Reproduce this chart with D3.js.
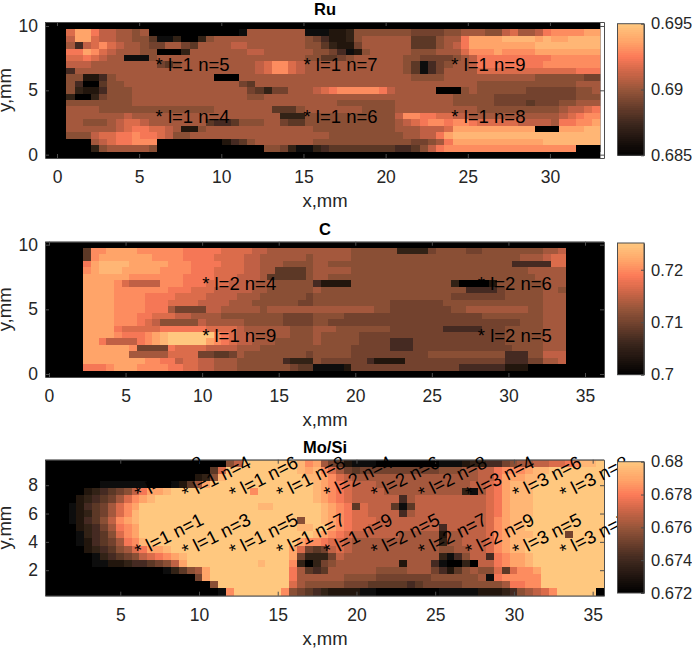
<!DOCTYPE html>
<html>
<head>
<meta charset="utf-8">
<script src="https://cdn.jsdelivr.net/npm/d3@7"></script>
<style>
  body { margin: 0; background: #fff; }
  svg { display: block; }
  text { font-family: "Liberation Sans", Arial, sans-serif; }
</style>
</head>
<body>
<div class="plot"></div>
<script>
// cell levels, 0 (colour axis min) .. f (colour axis max), top row first
const ruLevels = [
  "addb998878 0000000000 0188888881 1122377777 7766667788 8779a889bc cccdd",
  "9dda998877 5113003788 8888888887 6422378888 88555788bd dddeeeeded deeee",
  "849aca9887 6688658888 9988888887 7532268888 88555789bd dddddddeee eeeee",
  "bbdca98887 7000388888 8899888888 7764127888 88777888ac ccdccccddd ddddd",
  "aaba988111 7888888888 8888888887 7556788888 8776666789 bbbbbbbbbc ccccc",
  "9998888888 8657888888 8889acca98 8888888888 8751467889 bbbbbbbbcc ccccc",
  "4888888888 8888888888 8889acca98 8888888888 8751468888 aaaaaaaaaa aabbb",
  "7722478888 8888888800 0888888888 8888888888 8877778888 8888888777 77766",
  "7400577888 8888888888 8658888888 8888888888 8888888888 7777777777 77888",
  "7322477788 8888888888 8865366888 9abcccccb9 8888800078 7777776666 66778",
  "3003677788 8888888888 8877888888 8888888888 8888888777 7766666666 66777",
  "7777777788 8888888888 8888888888 8887777777 8888888777 7766665666 77888",
  "8888777777 7777777788 8888855578 8888887777 8888888888 7777777777 899ab",
  "8888888988 8888888888 8888883337 7777777777 9ccbbaa998 8888888888 9abcc",
  "8877789aa9 8888888544 5777886557 7777777777 89abccbccb aaaaa99998 bbccd",
  "8888889abb aa98227888 8888888888 7777777777 888999addd ddddddd000 dddee",
  "7779aabbcb ba97788888 8888888888 8877777777 78899bdeee eeeeeeeeee eeeee",
  "00089abbcc c000000002 4578888888 7777777777 776678bddd ddddddddee eeeee",
  "0003788888 7000000000 0000776311 3455555555 44579bcccc cccccccccc cc000"
];
const cLevels = [
  "5ccddddccc cccbbbbbaa aa99888888 8888877777 7333367777 6677777777 889",
  "5cdddddddc cccbbbbaaa a998888887 8888877777 7777777777 7777777888 9aa",
  "bdeeeedddd dcccbbbbaa a998887777 8877777777 7777777777 7777774444 4aa",
  "cdeeeddddd ccccbbbaaa a998855557 8888877777 7777777777 7777777788 888",
  "ddddddcccc cccbbbbaaa 9998555557 8877777777 7777777777 7777777778 888",
  "ddddca9999 cccbbbaaa9 9988877777 4222277777 7777777730 0002777777 888",
  "ddddcccccc cbbbaaa999 9988777777 8777777777 7777777777 4444677777 887",
  "ddddccccbb bbaaaa9999 8887777776 7777777777 7777777766 6666677777 888",
  "ddddccccbb baaaa99998 8877777766 7777777777 6666666777 7777777777 888",
  "ddddccccbb b866669988 8887888888 8888888877 6666666677 8888888877 888",
  "ddddcccbba aa99888877 7777776666 7777666666 6666666666 6677777777 888",
  "ddddcccba9 7777798888 8777776666 7766666666 6666666666 6666666777 888",
  "ddddbaaaaa bbbbbbaaaa 9888888777 8887777777 6666666444 4466677777 888",
  "ddddcbbbcd effffffcba 9988888777 8777776666 6666666666 6666677777 888",
  "ddb9999bcd efffffdcba 9988877777 8777776666 4446666666 6666677777 888",
  "ddddddc666 6baaaa9999 8887777777 7777766666 4446666666 6666667777 888",
  "dddddd8888 8aaaa66556 8777777776 7777766666 6666677777 7777744477 999",
  "ddddddddcc bb9aa99888 7777774333 7666666422 2266666666 6666644466 889",
  "bbbcdddccc cbbaa99888 7777777655 1111266666 6666666664 4444422200 000"
];
const moSiLevels = [
  "0000000000 0000000000 00079fffff ffecd86521 1100000000 1112334467 8899aabcee f",
  "0000000000 0000000000 05afffffff ffedeca865 6666666666 7778899bcc cdeeffffff f",
  "0000000000 0000000002 37efffffff fffeedca98 8888888888 8888899bdd deefffffff f",
  "0000000111 1110001258 dfffffffff ffffedcba9 9988888888 888899abde eeffffffff f",
  "0000023456 79bddeffff ffffffcfff ffffedcba9 9998888888 888318abde eeffffffff f",
  "0000234568 acdeffffff ffffffffff ffffedcba9 9999948999 999999abde eeffffffff f",
  "000124568a cdffffffff fffffffeef fffffedcb5 a999515999 999999abde eeffffffff f",
  "000123568a ceffffffff ffffffffff fffffedcba a999948999 999999abde eeffffffff f",
  "000124579c deffffffff ffffffffff ff7ffedcba aa99999999 999999acde efffffffff f",
  "000023468b cdffffffff ffffffffff ffeeffdcba a999999999 499999acde efffffffff f",
  "000013457a cdffffffff ffffffffff ffffedcba9 9999988888 288999acde eeffff6fff f",
  "0000124568 bcefffffff ffffffffff ffdccbaa98 8888888888 388999acde efffffffff f",
  "0000023457 8abddeffff ffffffffff fda6569a98 8888888888 778899acde efffffffff f",
  "0000001345 679abcdeff ffffffffff fd63336988 8888888888 3147994bcd deffffffff f",
  "0000001122 3445679dff fffffffeff fc30367888 8888828884 1003099bcd deffffffff f",
  "0000000000 0000013578 dfffffffff fb85458888 8877778886 4257877a5a ccdfffffff f",
  "0000000000 0000000006 dfffffffff fb88888877 7766666667 7777781bcc cccfffffff f",
  "0000000000 0000000000 07ffffffff fa87777766 6555554566 666777778b bccfffffff f",
  "0000000000 0000000000 001cffffff c765432222 1100000000 1111122234 789acfffff 0"
];

const ruXTicks = [0, 5, 10, 15, 20, 25, 30];
const ruYTicks = [0, 5, 10];
const ruBarTicks = [0.685, 0.69, 0.695];
const ruLabels = ["* l=1 n=5", "* l=1 n=4", "* l=1 n=7", "* l=1 n=6", "* l=1 n=9", "* l=1 n=8"];
const ruLabelX = [6, 6, 15, 15, 24, 24];
const ruLabelY = [7, 3, 7, 3, 7, 3];

const cXTicks = [0, 5, 10, 15, 20, 25, 30, 35];
const cYTicks = [0, 5, 10];
const cBarTicks = [0.7, 0.71, 0.72];
const cLabels = ["* l=2 n=4", "* l=1 n=9", "* l=2 n=6", "* l=2 n=5"];
const cLabelX = [10, 10, 28, 28];
const cLabelY = [7, 3, 7, 3];

const moSiXTicks = [5, 10, 15, 20, 25, 30, 35];
const moSiYTicks = [2, 4, 6, 8];
const moSiBarTicks = [0.672, 0.674, 0.676, 0.678, 0.68];
const moSiLabels = [
  "* l=1 n=1", "* l=1 n=3", "* l=1 n=5", "* l=1 n=7", "* l=1 n=9",
  "* l=2 n=5", "* l=2 n=7", "* l=2 n=9", "* l=3 n=5", "* l=3 n=7",
  "* l=1 n=2", "* l=1 n=4", "* l=1 n=6", "* l=1 n=8", "* l=2 n=4",
  "* l=2 n=6", "* l=2 n=8", "* l=3 n=4", "* l=3 n=6", "* l=3 n=8"
];
const moSiLabelX = [6, 9, 12, 15, 18, 21, 24, 27, 30, 33, 6, 9, 12, 15, 18, 21, 24, 27, 30, 33];
const moSiLabelY = [3.3, 3.3, 3.3, 3.3, 3.3, 3.3, 3.3, 3.3, 3.3, 3.3, 7.35, 7.35, 7.35, 7.35, 7.35, 7.35, 7.35, 7.35, 7.35, 7.35];

// colour map as seen on the colour bars: like copper but going salmon near the top
const mapStops = [0, 0.25, 0.5, 0.62, 0.75, 0.87, 1];
const mapColors = ['#000000', '#3e281e', '#96553a', '#c86446', '#fc7a58', '#ffa569', '#ffc87f'];
const colorMap = d3.scaleLinear().domain(mapStops).range(mapColors).clamp(true);

const left = 45, right = 604, barLeft = 617.5, barRight = 644;
const textColor = '#262626', lineColor = '#4d4d4d';

const svg = d3.select('.plot').append('svg').attr('width', 692).attr('height', 648);

// the reference is a slightly soft scan, the cells get the same softness
svg.append('defs').append('filter').attr('id', 'soften')
   .append('feGaussianBlur').attr('stdDeviation', 0.5);

function styleAxis(g, size) {
  g.attr('font-family', null).attr('font-size', null);
  g.selectAll('text').attr('font-size', size).attr('fill', textColor);
  g.selectAll('line').attr('stroke', lineColor);
  g.selectAll('path').attr('stroke', lineColor);
}

function drawPanel(p, id) {
  const xScale = d3.scaleLinear().domain(p.xDomain).range([left, right]);
  const yScale = d3.scaleLinear().domain(p.yDomain).range([p.bottom, p.top]);
  const color = d3.scaleSequential(colorMap).domain(p.barDomain);
  const rows = p.levels.map(r => r.replace(/ /g, ''));
  const span = p.barDomain[1] - p.barDomain[0];
  const g = svg.append('g');

  const imgX = xScale(p.xDomain[0]), imgY = yScale(p.yDomain[1]);
  const imgW = xScale(p.imageEnd) - imgX, imgH = yScale(p.yDomain[0]) - imgY;

  // black behind the image, it stops where the image stops
  g.append('rect')
   .attr('x', imgX).attr('y', imgY)
   .attr('width', imgW).attr('height', imgH)
   .attr('fill', '#000');
  svg.select('defs').append('clipPath').attr('id', 'clip' + id)
   .append('rect')
   .attr('x', imgX).attr('y', imgY)
   .attr('width', imgW).attr('height', imgH);

  const cells = rows.flatMap((r, j) => Array.from(r, (c, i) => ({
    i: i, j: j, value: p.barDomain[0] + parseInt(c, 16) / 15 * span
  })));
  g.append('g')
   .attr('clip-path', `url(#clip${id})`)
   .append('g')
   .attr('filter', 'url(#soften)')
   .selectAll('.cell')
   .data(cells)
   .enter()
   .append('rect')
   .attr('class', 'cell')
   .attr('x', d => xScale(p.x0 + d.i * p.stepX))
   .attr('y', d => yScale(p.y0 - d.j * p.stepY))
   .attr('width', xScale(p.x0 + p.stepX) - xScale(p.x0) + 0.4)
   .attr('height', yScale(p.y0 - p.stepY) - yScale(p.y0) + 0.4)
   .attr('shape-rendering', 'crispEdges')
   .attr('fill', d => color(d.value));

  // box with inward ticks on all four sides
  g.append('g').attr('transform', `translate(0, ${p.bottom})`)
   .call(d3.axisBottom(xScale).tickValues(p.xTicks).tickFormat(String).tickSizeInner(-4).tickSizeOuter(0).tickPadding(13))
   .call(a => styleAxis(a, 17.5));
  g.append('g').attr('transform', `translate(0, ${p.top})`)
   .call(d3.axisTop(xScale).tickValues(p.xTicks).tickFormat('').tickSizeInner(-4).tickSizeOuter(0))
   .call(a => styleAxis(a, 17.5));
  g.append('g').attr('transform', `translate(${left}, 0)`)
   .call(d3.axisLeft(yScale).tickValues(p.yTicks).tickFormat(String).tickSizeInner(-4).tickSizeOuter(0).tickPadding(7))
   .call(a => styleAxis(a, 17.5));
  g.append('g').attr('transform', `translate(${right}, 0)`)
   .call(d3.axisRight(yScale).tickValues(p.yTicks).tickFormat('').tickSizeInner(-4).tickSizeOuter(0))
   .call(a => styleAxis(a, 17.5));

  g.append('text')
   .attr('x', 325).attr('y', p.top - 7)
   .attr('text-anchor', 'middle')
   .attr('font-size', 16.5).attr('font-weight', 'bold')
   .text(p.title);
  g.append('text')
   .attr('x', 325).attr('y', p.bottom + 49)
   .attr('text-anchor', 'middle')
   .attr('font-size', 18.5).attr('fill', textColor)
   .text('x,mm');
  g.append('text')
   .attr('transform', `translate(11, ${(p.top + p.bottom) / 2}) rotate(-90)`)
   .attr('text-anchor', 'middle')
   .attr('font-size', 18.5).attr('fill', textColor)
   .text('y,mm');

  g.selectAll('.note')
   .data(p.labels)
   .enter()
   .append('text')
   .attr('class', 'note')
   .attr('transform', (d, i) => `translate(${xScale(p.labelX[i])}, ${yScale(p.labelY[i])}) rotate(${p.angle})`)
   .attr('dy', '0.35em')
   .attr('font-size', 18.5)
   .attr('fill', '#000')
   .text(d => d);

  // colour bar goes last, it hides the notes that run into it
  const barScale = d3.scaleLinear().domain(p.barDomain).range([p.barBottom, p.barTop]);
  const steps = d3.range(64);
  const stepH = (p.barBottom - p.barTop) / 64;
  g.selectAll('.bar')
   .data(steps)
   .enter()
   .append('rect')
   .attr('class', 'bar')
   .attr('x', barLeft)
   .attr('y', d => p.barBottom - (d + 1) * stepH)
   .attr('width', barRight - barLeft)
   .attr('height', stepH + 0.4)
   .attr('shape-rendering', 'crispEdges')
   .attr('fill', d => color(p.barDomain[0] + (d + 0.5) / 64 * span));
  g.append('rect')
   .attr('x', barLeft).attr('y', p.barTop)
   .attr('width', barRight - barLeft).attr('height', p.barBottom - p.barTop)
   .attr('fill', 'none').attr('stroke', lineColor);
  g.append('g').attr('transform', `translate(${barRight}, 0)`)
   .call(d3.axisRight(barScale).tickValues(p.barTicks).tickFormat(String).tickSizeInner(-3).tickSizeOuter(0).tickPadding(7))
   .call(a => styleAxis(a, 16.5));
}

drawPanel({
  title: 'Ru', levels: ruLevels, top: 22, bottom: 158,
  xDomain: [-0.73, 33.29], yDomain: [-0.26, 10.31], imageEnd: 33.07,
  x0: 0.57, stepX: 0.5, y0: 9.75, stepY: 0.5, angle: 0,
  xTicks: ruXTicks, yTicks: ruYTicks,
  labels: ruLabels, labelX: ruLabelX, labelY: ruLabelY,
  barDomain: [0.685, 0.695], barTop: 23.7, barBottom: 155.3, barTicks: ruBarTicks
}, 1);
drawPanel({
  title: 'C', levels: cLevels, top: 241.7, bottom: 377,
  xDomain: [-0.26, 36.24], yDomain: [-0.23, 10.23], imageEnd: 36.24,
  x0: 2.25, stepX: 0.5, y0: 9.75, stepY: 0.5, angle: 0,
  xTicks: cXTicks, yTicks: cYTicks,
  labels: cLabels, labelX: cLabelX, labelY: cLabelY,
  barDomain: [0.7, 0.7251], barTop: 243, barBottom: 374.7, barTicks: cBarTicks
}, 2);
drawPanel({
  title: 'Mo/Si', levels: moSiLevels, top: 459.7, bottom: 595.7,
  xDomain: [0.22, 35.72], yDomain: [0.2, 9.8], imageEnd: 35.72,
  x0: 0.22, stepX: 0.5, y0: 9.8, stepY: 0.505, angle: -27,
  xTicks: moSiXTicks, yTicks: moSiYTicks,
  labels: moSiLabels, labelX: moSiLabelX, labelY: moSiLabelY,
  barDomain: [0.672, 0.68], barTop: 461.7, barBottom: 593, barTicks: moSiBarTicks
}, 3);
</script>
</body>
</html>
